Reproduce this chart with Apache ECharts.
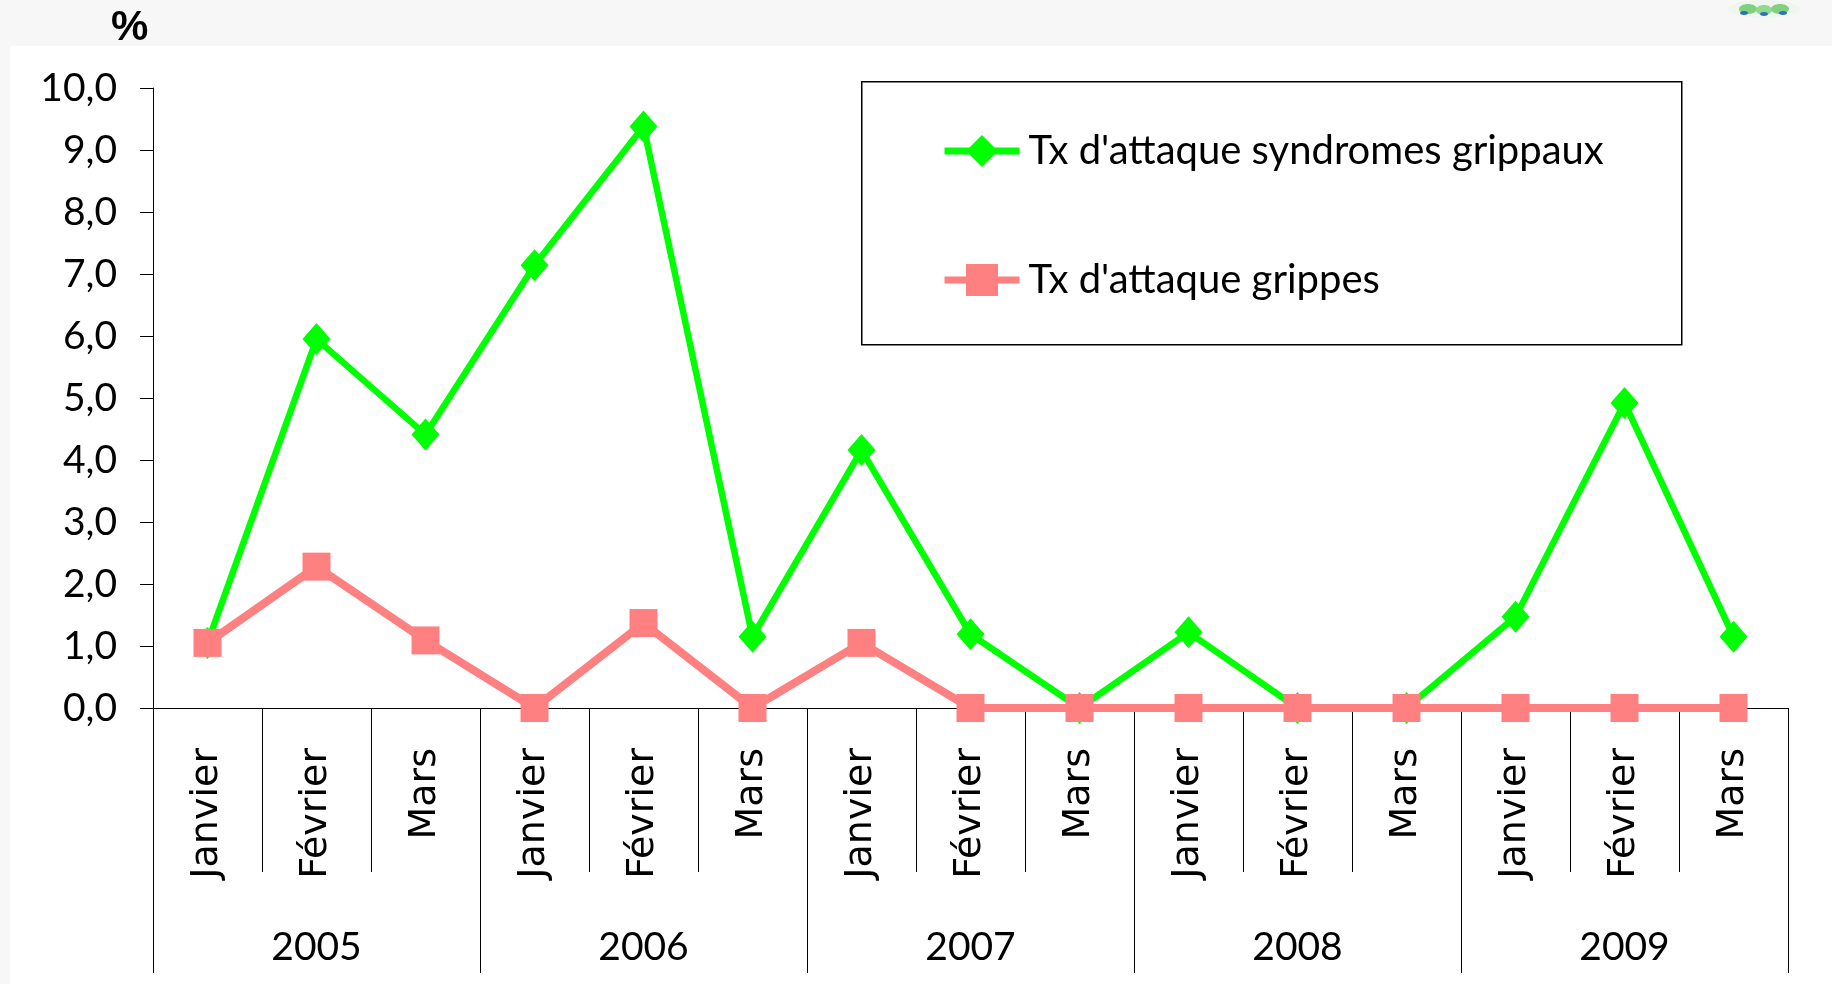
<!DOCTYPE html>
<html>
<head>
<meta charset="utf-8">
<script src="https://cdn.jsdelivr.net/npm/echarts@6/dist/echarts.min.js"></script>
<style>
html,body{margin:0;padding:0;width:1832px;height:984px;background:#f7f7f7;overflow:hidden;}
#bg{position:absolute;left:10px;top:46px;right:0;bottom:0;background:#ffffff;}
#chart{position:absolute;left:0;top:0;width:1832px;height:984px;}
</style>
</head>
<body>
<div id="bg"></div>
<div id="chart"></div>
<script>
// ---- data ----
const months = ['Janvier','Février','Mars','Janvier','Février','Mars','Janvier','Février','Mars','Janvier','Février','Mars','Janvier','Février','Mars'];
const years = ['2005','2006','2007','2008','2009'];
const syndromesGrippaux = [1.05, 5.95, 4.41, 7.14, 9.38, 1.15, 4.16, 1.19, 0.0, 1.22, 0.0, 0.0, 1.47, 4.92, 1.15];
const grippes = [1.05, 2.28, 1.09, 0.0, 1.37, 0.0, 1.05, 0.0, 0.0, 0.0, 0.0, 0.0, 0.0, 0.0, 0.0];
const yTicks = {min: 0, max: 10, interval: 1};
const seriesNames = ["Tx d'attaque syndromes grippaux", "Tx d'attaque grippes"];

const GREEN = '#00ff00', PINK = '#ff8080';

const chart = echarts.init(document.getElementById('chart'), null, {renderer: 'canvas'});
const option = {
  backgroundColor: 'transparent',
  animation: false,
  title: {
    text: '%', left: 106, top: 2,
    textStyle: {fontFamily: 'Liberation Sans', fontWeight: 'bold', fontSize: 42, color: '#000'}
  },
  graphic: [{
    type: 'rect', left: 861, top: 81, z: 0,
    shape: {width: 820, height: 263},
    style: {fill: '#ffffff', stroke: '#000', lineWidth: 1.5}
  }, {
    type: 'group', left: 1728, top: 0, silent: true,
    children: [
      {type: 'ellipse', shape: {cx: 36, cy: 4, rx: 36, ry: 9}, style: {fill: '#eef6ee'}},
      {type: 'ellipse', shape: {cx: 20, cy: 4, rx: 9, ry: 5}, style: {fill: '#7fd07f'}},
      {type: 'ellipse', shape: {cx: 36, cy: 5, rx: 8, ry: 5}, style: {fill: '#8fd88f'}},
      {type: 'ellipse', shape: {cx: 52, cy: 4, rx: 9, ry: 5}, style: {fill: '#7fd07f'}},
      {type: 'ellipse', shape: {cx: 16, cy: 8, rx: 4, ry: 2}, style: {fill: '#2f6fb5'}},
      {type: 'ellipse', shape: {cx: 36, cy: 9, rx: 4, ry: 2}, style: {fill: '#2f6fb5'}},
      {type: 'ellipse', shape: {cx: 55, cy: 8, rx: 4, ry: 2}, style: {fill: '#2f6fb5'}}
    ]
  }],
  legend: {
    orient: 'vertical', left: 936, top: 126,
    itemWidth: 75, itemHeight: 40, itemGap: 89,
    textStyle: {fontFamily: 'Lato', fontSize: 40, lineHeight: 40, color: '#000', padding: [0, 0, 0, 4]},
    data: [
      {name: seriesNames[0], lineStyle: {width: 7, color: GREEN}},
      {name: seriesNames[1], lineStyle: {width: 7, color: PINK}}
    ]
  },
  grid: {left: 153, right: 44, top: 88, bottom: 276, containLabel: false},
  xAxis: [{
    type: 'category', data: months, boundaryGap: true,
    axisLine: {show: true, lineStyle: {color: '#000', width: 1}},
    axisTick: {show: true, interval: 0, length: 164, lineStyle: {color: '#000', width: 1}},
    axisLabel: {interval: 0, rotate: 90, margin: 40, fontFamily: 'DejaVu Sans', fontSize: 38, color: '#000'}
  }, {
    type: 'category', data: years, position: 'bottom', boundaryGap: true,
    axisLine: {show: false},
    axisTick: {show: true, interval: 0, length: 265, lineStyle: {color: '#000', width: 1}},
    axisLabel: {interval: 0, margin: 220, fontFamily: 'Lato', fontSize: 39, color: '#000'}
  }],
  yAxis: {
    type: 'value', min: yTicks.min, max: yTicks.max, interval: yTicks.interval,
    axisLine: {show: true, lineStyle: {color: '#000', width: 1}},
    axisTick: {show: true, length: 13, lineStyle: {color: '#000', width: 1}},
    splitLine: {show: false},
    axisLabel: {margin: 36, fontFamily: 'Lato', fontSize: 39, color: '#000',
      formatter: v => v.toFixed(1).replace('.', ',')}
  },
  series: [{
    name: seriesNames[0], type: 'line', data: syndromesGrippaux, xAxisIndex: 0,
    symbol: 'diamond', symbolSize: [28, 32],
    lineStyle: {color: GREEN, width: 6.5},
    itemStyle: {color: GREEN}
  }, {
    name: seriesNames[1], type: 'line', data: grippes, xAxisIndex: 0,
    symbol: 'rect', symbolSize: [28, 28],
    lineStyle: {color: PINK, width: 8},
    itemStyle: {color: PINK}
  }]
};
chart.setOption(option);
</script>
</body>
</html>
